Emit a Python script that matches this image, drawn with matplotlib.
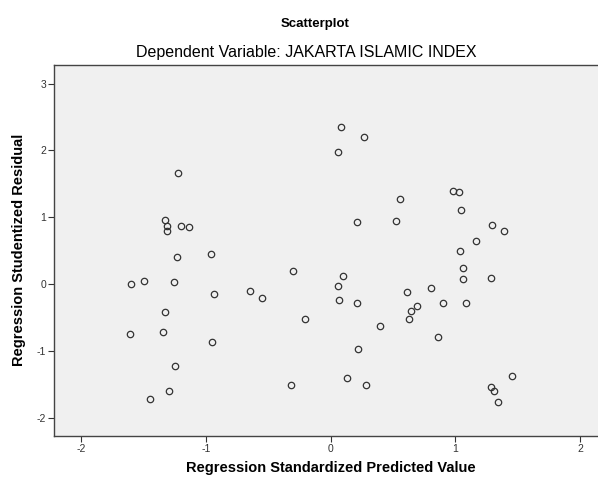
import matplotlib
matplotlib.use("Agg")
import matplotlib.pyplot as plt

# Regression standardized predicted value (x) / studentized residual (y)
pred = [-1.221, -1.328, -1.314, -1.309, -1.202, -1.136, -1.234, -0.962,
        -1.603, -1.494, -1.258, -0.938, -1.331, -1.611, -1.342, -0.949,
        -1.250, -1.293, -1.446,
        0.081, 0.268, 0.059, 0.557, 0.209, 0.527,
        -0.302, -0.646, -0.548, 0.102, 0.062, 0.067, 0.214, -0.205,
        0.396, 0.220, -0.318, 0.129, 0.286, 0.610, 0.690, 0.645, 0.629,
        0.984, 1.030, 1.048, 1.294, 1.393, 1.166, 1.035,
        1.062, 1.062, 1.284, 0.805, 0.904, 1.086, 0.859,
        1.452, 1.284, 1.313, 1.340]
resid = [1.666, 0.958, 0.873, 0.793, 0.873, 0.858, 0.409, 0.449,
         0.000, 0.050, 0.025, -0.150, -0.414, -0.754, -0.714, -0.868,
         -1.228, -1.607, -1.727,
         2.350, 2.205, 1.981, 1.268, 0.933, 0.948,
         0.195, -0.100, -0.214, 0.125, -0.030, -0.240, -0.280, -0.529,
         -0.629, -0.973, -1.507, -1.403, -1.517, -0.125, -0.329, -0.404, -0.524,
         1.392, 1.377, 1.103, 0.883, 0.793, 0.644, 0.494,
         0.240, 0.070, 0.095, -0.065, -0.284, -0.284, -0.788,
         -1.382, -1.547, -1.602, -1.766]

xticks = [-2, -1, 0, 1, 2]
yticks = [-2, -1, 0, 1, 2, 3]

plt.rcParams['font.family'] = ['Liberation Sans', 'DejaVu Sans']
plt.rcParams['axes.unicode_minus'] = False

fig = plt.figure(figsize=(5.98, 4.8), dpi=100)
ax = fig.add_axes([54/598, 44/480, 1 - 54/598, 371/480])
ax.set_facecolor('#f0f0f0')

ax.plot(pred, resid, linestyle='none', marker='o', markersize=4.6,
        markerfacecolor='none', markeredgecolor='#333333', markeredgewidth=0.9)

ax.set_xlim(-2.218, 2.144)
ax.set_ylim(-2.275, 3.278)
ax.set_xticks(xticks)
ax.set_yticks(yticks)
ax.tick_params(direction='out', length=4, width=0.8, color='#333333',
               labelsize=7.5, labelcolor='#333333', pad=1.5)
for s in ['left', 'bottom', 'top']:
    ax.spines[s].set_color('#444444')
    ax.spines[s].set_linewidth(1.0)
ax.spines['right'].set_visible(False)

fig.text(331/598, 1 - 468/480, 'Regression Standardized Predicted Value',
         ha='center', va='center', fontsize=10.5, fontweight='bold')
fig.text(19/598, 1 - 250/480, 'Regression Studentized Residual',
         ha='center', va='center', rotation=90, fontsize=10.5, fontweight='bold')

fig.text(315/598, 1 - 24/480, 'Scatterplot', ha='center', va='center',
         fontsize=9.5, fontweight='bold')
fig.text(306/598, 1 - 52/480, 'Dependent Variable: JAKARTA ISLAMIC INDEX',
         ha='center', va='center', fontsize=11.5)

fig.savefig('out.png', dpi=100)
